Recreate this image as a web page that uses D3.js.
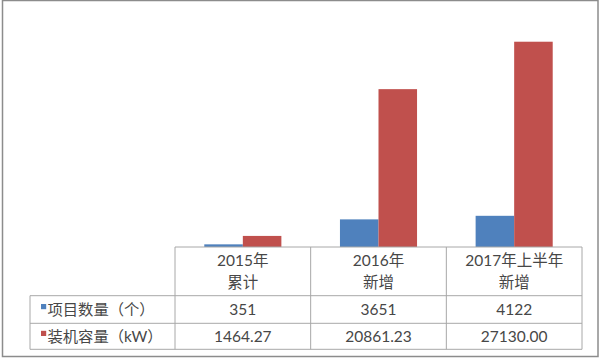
<!DOCTYPE html>
<html>
<head>
<meta charset="utf-8">
<script src="https://cdn.jsdelivr.net/npm/d3@7"></script>
<style>
  html, body { margin: 0; padding: 0; background: #fff; }
  svg { display: block; }
  text { font-family: Lato, "Noto Sans CJK SC", sans-serif; fill: #474747; }
</style>
</head>
<body>
<svg id="chart" width="600" height="359"></svg>
<script>
// Categories (two-line headers in the data table)
const categories = ["2015年|累计", "2016年|新增", "2017年上半年|新增"];
const seriesNames = ["项目数量（个）", "装机容量（kW）"];
const projectCounts = [351, 3651, 4122];
const capacityKW = [1464.27, 20861.23, 27130.00];
const seriesColors = ["#4f81bd", "#c0504d"];
const yMax = 30000;

const series = [
  { name: seriesNames[0], values: projectCounts, color: seriesColors[0], fmt: d3.format("d") },
  { name: seriesNames[1], values: capacityKW, color: seriesColors[1], fmt: d3.format(".2f") }
];

const svg = d3.select("#chart");

// Layout
const tableLeft = 175, tableRight = 582;
const legendLeft = 30;
const baseY = 247, plotTop = 20;
const headerBottom = 295.7;
const rowBottoms = [323.3, 349.3];
const gridColor = "#a8a8a8";

// Outer frame
svg.append("rect")
  .attr("x", 2.5).attr("y", 0.5)
  .attr("width", 595.5).attr("height", 356)
  .attr("fill", "none").attr("stroke", "#8c8c8c").attr("stroke-width", 1.5);

const x0 = d3.scaleBand().domain(d3.range(categories.length))
  .range([tableLeft, tableRight]).paddingInner(0).paddingOuter(0);
const x1 = d3.scaleBand().domain(d3.range(series.length))
  .range([0, x0.bandwidth()]).paddingInner(0).paddingOuter(0.76);
const y = d3.scaleLinear().domain([0, yMax]).range([baseY, plotTop]);

// Bars
const groups = svg.append("g").selectAll("g")
  .data(categories.map((c, i) => i))
  .join("g")
  .attr("transform", i => `translate(${x0(i)},0)`);

groups.selectAll("rect")
  .data(i => series.map((s, j) => ({ j, v: s.values[i], color: s.color })))
  .join("rect")
  .attr("x", d => x1(d.j))
  .attr("width", x1.bandwidth())
  .attr("y", d => y(d.v))
  .attr("height", d => baseY - y(d.v))
  .attr("fill", d => d.color);

// Data table grid
const grid = svg.append("g").attr("stroke", gridColor).attr("stroke-width", 1).attr("fill", "none");
grid.append("line").attr("x1", tableLeft).attr("x2", tableRight).attr("y1", baseY).attr("y2", baseY);
[headerBottom, ...rowBottoms].forEach(yy =>
  grid.append("line").attr("x1", legendLeft).attr("x2", tableRight).attr("y1", yy).attr("y2", yy));
d3.range(categories.length + 1).forEach(i => {
  const xx = i < categories.length ? x0(i) : tableRight;
  grid.append("line").attr("x1", xx).attr("x2", xx).attr("y1", baseY).attr("y2", rowBottoms[1]);
});
grid.append("line").attr("x1", legendLeft).attr("x2", legendLeft).attr("y1", headerBottom).attr("y2", rowBottoms[1]);

// Header labels
const fs = 15.5;
categories.forEach((c, i) => {
  const cx = x0(i) + x0.bandwidth() / 2;
  const lines = c.split("|");
  const t = svg.append("text").attr("text-anchor", "middle").attr("font-size", fs);
  lines.forEach((ln, k) => {
    t.append("tspan").attr("x", cx).attr("y", 265.5 + k * 22.5).text(ln);
  });
});

// Value rows and legend keys
const rowTops = [headerBottom, rowBottoms[0]];
series.forEach((s, j) => {
  const top = rowTops[j], bottom = rowBottoms[j];
  const cy = (top + bottom) / 2;
  s.values.forEach((v, i) => {
    svg.append("text")
      .attr("x", x0(i) + x0.bandwidth() / 2)
      .attr("y", cy + 5.8)
      .attr("text-anchor", "middle")
      .attr("font-size", fs)
      .text(s.fmt(v));
  });
  svg.append("rect")
    .attr("x", 41).attr("y", cy - 5.5)
    .attr("width", 5.2).attr("height", 5.2)
    .attr("fill", s.color);
  svg.append("text")
    .attr("x", 47.5)
    .attr("y", cy + 5.5)
    .attr("font-size", 15.3)
    .text(s.name);
});
</script>
</body>
</html>
